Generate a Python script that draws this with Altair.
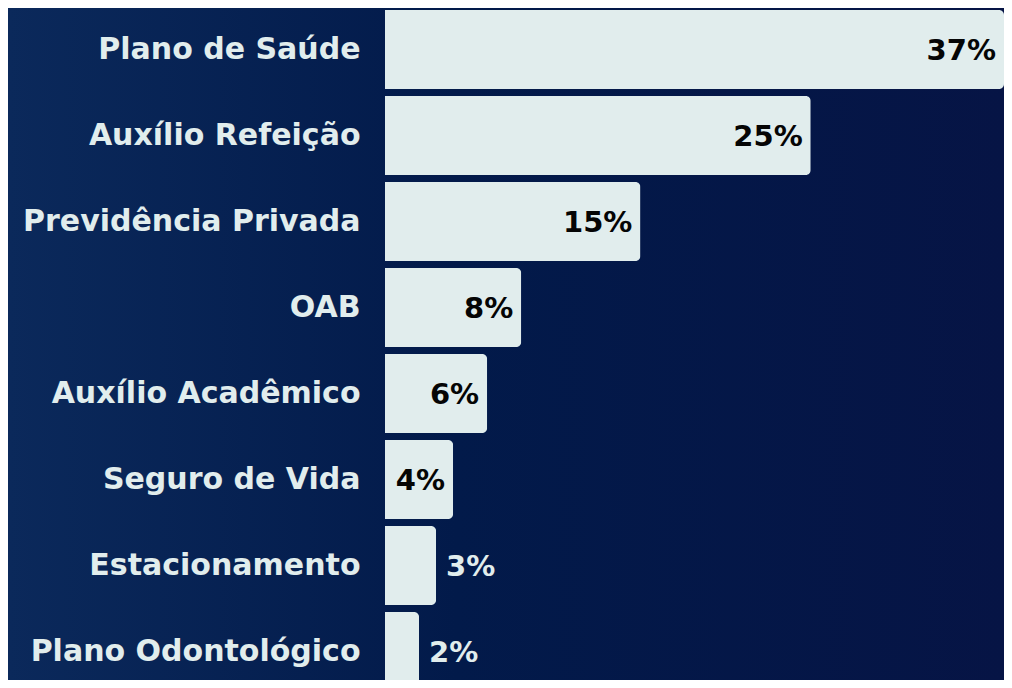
import altair as alt
import pandas as pd

categories = ["Plano de Saúde", "Auxílio Refeição", "Previdência Privada", "OAB",
              "Auxílio Acadêmico", "Seguro de Vida", "Estacionamento", "Plano Odontológico"]
values = [37, 25, 15, 8, 6, 4, 3, 2]
labels = ["37%", "25%", "15%", "8%", "6%", "4%", "3%", "2%"]

df = pd.DataFrame({"cat": categories, "val": values, "lab": labels})
bg_df = pd.DataFrame({"a": [0]})

FONT = "DejaVu Sans"
BAR = "#e1eded"

W, H = 619, 672

y_enc = alt.Y("cat:N", sort=categories,
              scale=alt.Scale(range=[-1.5, 686.5], paddingInner=0.0814, paddingOuter=0.0407),
              axis=alt.Axis(title=None, domain=False, ticks=False, labelPadding=25,
                            labelFont=FONT, labelFontSize=30, labelFontWeight="bold",
                            labelColor=BAR, labelLimit=400, labelOverlap=False, zindex=2))
x_enc = alt.X("val:Q", scale=alt.Scale(domain=[0, 36.35], nice=False, clamp=True),
              axis=None)

bg = alt.Chart(bg_df).mark_rect(
    fill=alt.Gradient(gradient="linear", x1=0, y1=0, x2=1, y2=0,
                      stops=[alt.GradientStop(offset=0, color="#0b295b"),
                             alt.GradientStop(offset=0.45, color="#021a4a"),
                             alt.GradientStop(offset=1, color="#061445")])
).encode(x=alt.value(-377), x2=alt.value(W), y=alt.value(0), y2=alt.value(H))

bars = alt.Chart(df).mark_bar(
    color=BAR, cornerRadiusEnd=alt.ExprRef("datum.val > 36 ? 0 : 5")
).encode(y=y_enc, x=x_enc)

inside = alt.Chart(df).transform_filter("datum.val >= 4").mark_text(
    align="right", baseline="middle", dx=-8, dy=1, font=FONT, fontSize=29,
    fontWeight="bold", color="#050505").encode(
    y=alt.Y("cat:N", sort=categories), x="val:Q", text="lab:N")

outside = alt.Chart(df).transform_filter("datum.val < 4").mark_text(
    align="left", baseline="middle", dx=10, dy=1, font=FONT, fontSize=29,
    fontWeight="bold", color=BAR).encode(
    y=alt.Y("cat:N", sort=categories), x="val:Q", text="lab:N")

chart = alt.layer(bg, bars, inside, outside).properties(
    width=W, height=H,
    autosize=alt.AutoSizeParams(type="none"),
    padding={"left": 377, "top": 0, "right": 0, "bottom": 0},
).configure(background="#041847").configure_view(stroke=None)

chart.save("out.html", embed_options={"renderer": "svg", "actions": False})
